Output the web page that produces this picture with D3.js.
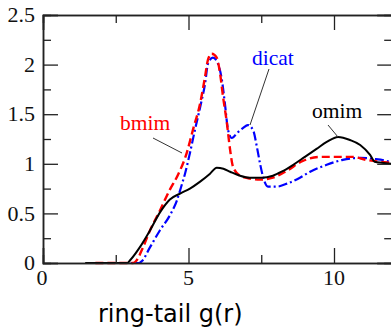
<!DOCTYPE html>
<html><head><meta charset="utf-8">
<script src="https://cdn.jsdelivr.net/npm/d3@7"></script>
<style>body{margin:0;background:#fff;}svg{display:block;}</style>
</head><body>
<script>
// ---- data ----
const rOmim = [1.45, 2.9, 3.0, 3.33, 3.68, 4.02, 4.36, 4.71, 5.05, 5.4, 5.74, 5.97, 6.2, 6.43, 6.77, 7.11, 7.5, 7.9, 8.2, 8.6, 9.0, 9.4, 9.75, 10.14, 10.55, 10.9, 11.24, 11.4, 11.65, 12];
const gOmim = [0, 0, 0.03, 0.16, 0.33, 0.51, 0.64, 0.70, 0.75, 0.82, 0.90, 0.96, 0.95, 0.92, 0.88, 0.86, 0.86, 0.88, 0.92, 0.99, 1.07, 1.15, 1.22, 1.27, 1.24, 1.19, 1.09, 1.02, 1.01, 1.0];
const rBmim = [1.8, 3.1, 3.2, 3.44, 3.68, 4.02, 4.36, 4.64, 4.94, 5.15, 5.4, 5.57, 5.67, 5.8, 5.97, 6.08, 6.19, 6.32, 6.43, 6.53, 6.77, 7.11, 7.46, 7.9, 8.38, 8.93, 9.52, 10.1, 10.65, 11.1, 11.58, 12];
const gBmim = [0, 0, 0.02, 0.16, 0.33, 0.53, 0.74, 0.89, 1.11, 1.34, 1.61, 1.88, 2.05, 2.11, 2.07, 1.92, 1.67, 1.41, 1.14, 0.97, 0.88, 0.85, 0.84, 0.86, 0.93, 1.03, 1.07, 1.07, 1.07, 1.04, 1.02, 1.01];
const rDicat = [2.6, 3.3, 3.4, 3.68, 4.02, 4.36, 4.6, 4.78, 4.88, 5.05, 5.22, 5.4, 5.57, 5.67, 5.84, 6.01, 6.15, 6.25, 6.36, 6.49, 6.67, 6.87, 7.04, 7.22, 7.35, 7.46, 7.56, 7.73, 8.04, 8.38, 8.83, 9.18, 9.75, 10.3, 10.9, 11.34, 11.8, 12];
const gDicat = [0, 0, 0.02, 0.16, 0.33, 0.48, 0.63, 0.80, 0.90, 1.11, 1.34, 1.57, 1.81, 2.01, 2.07, 2.01, 1.84, 1.61, 1.34, 1.26, 1.31, 1.36, 1.39, 1.34, 1.17, 1.0, 0.87, 0.77, 0.77, 0.80, 0.86, 0.92, 0.99, 1.04, 1.06, 1.05, 1.03, 1.01];
const xMajor = [0, 5, 10];
const xMinor = [2.5, 7.5];
const yMajor = [0, 0.5, 1, 1.5, 2, 2.5];
const yMinor = [0.25, 0.75, 1.25, 1.75, 2.25];
const xLabels = ["0", "5", "10"];
const yLabels = ["0", "0.5", "1", "1.5", "2", "2.5"];
const xTitle = "ring-tail g(r)";
const series = [
  {name: "omim", r: rOmim, g: gOmim},
  {name: "bmim", r: rBmim, g: gBmim},
  {name: "dicat", r: rDicat, g: gDicat}
];

// ---- layout ----
const W = 391, H = 330;
const x = d3.scaleLinear().domain([0, 12]).range([43, 392.2]);
const y = d3.scaleLinear().domain([0, 2.5]).range([263, 15]);
const svg = d3.select("body").append("svg").attr("width", W).attr("height", H);

const styles = {
  omim: {stroke: "#000", dash: null, width: 2},
  bmim: {stroke: "#ff0000", dash: "8,4", width: 2.4},
  dicat: {stroke: "#0000ff", dash: "9,3,2,3", width: 2.2}
};

const line = d3.line().x(d => x(d[0])).y(d => y(d[1])).curve(d3.curveMonotoneX);
["dicat", "bmim", "omim"].forEach(n => {
  const s = series.find(q => q.name === n);
  const pts = s.r.map((v, i) => [v, s.g[i]]);
  svg.append("path").attr("d", line(pts)).attr("fill", "none")
    .attr("stroke", styles[n].stroke).attr("stroke-width", styles[n].width)
    .attr("stroke-dasharray", styles[n].dash);
});

// axes with inward ticks
const axCol = "#222";
const fontSerif = "'Liberation Serif', 'Times New Roman', serif";
const gAx = svg.append("g");
function axisDraw(axisGen, tr, vals, size) {
  const g = gAx.append("g").attr("transform", tr).call(axisGen.tickValues(vals).tickSize(size).tickFormat(""));
  g.select(".domain").attr("stroke", axCol).attr("stroke-width", 1.5);
  g.selectAll(".tick line").attr("stroke", axCol).attr("stroke-width", 1.3);
  return g;
}
const yBot = y(0), yTop = y(2.5), xL = x(0), xR = x(12);
axisDraw(d3.axisTop(x), `translate(0,${yBot})`, xMajor, 15);
axisDraw(d3.axisTop(x), `translate(0,${yBot})`, xMinor, 8);
axisDraw(d3.axisBottom(x), `translate(0,${yTop})`, xMajor, 15);
axisDraw(d3.axisBottom(x), `translate(0,${yTop})`, xMinor, 8);
axisDraw(d3.axisRight(y), `translate(${xL},0)`, yMajor, 15);
axisDraw(d3.axisRight(y), `translate(${xL},0)`, yMinor, 8);
axisDraw(d3.axisLeft(y), `translate(${xR},0)`, yMajor, 15);
axisDraw(d3.axisLeft(y), `translate(${xR},0)`, yMinor, 8);

// tick labels
svg.append("g").selectAll("text").data(xMajor).join("text")
  .attr("x", d => x(d) - (d === 0 ? 1 : 0)).attr("y", 285).attr("text-anchor", "middle")
  .attr("font-family", fontSerif).attr("font-size", 22).attr("fill", "#111")
  .text((d, i) => xLabels[i]);
svg.append("g").selectAll("text").data(yMajor).join("text")
  .attr("x", 35).attr("y", d => y(d)).attr("dy", "0.33em").attr("text-anchor", "end")
  .attr("font-family", fontSerif).attr("font-size", 22).attr("fill", "#111")
  .text((d, i) => yLabels[i]);

// x title
svg.append("text").attr("x", 98).attr("y", 322)
  .attr("font-family", "'DejaVu Sans', sans-serif").attr("font-size", 24).attr("fill", "#000")
  .text(xTitle);

// annotations
const ann = [
  {t: "bmim", c: "#ff0000", tx: 120, ty: 130, x1: 153, y1: 138, x2: 182, y2: 153},
  {t: "dicat", c: "#0000ff", tx: 252, ty: 65, x1: 269, y1: 69, x2: 250, y2: 125},
  {t: "omim", c: "#000", tx: 312, ty: 118, x1: 328, y1: 125, x2: 338, y2: 137}
];
ann.forEach(a => {
  svg.append("text").attr("x", a.tx).attr("y", a.ty).attr("font-family", fontSerif)
    .attr("font-size", 21.5).attr("fill", a.c).text(a.t);
  svg.append("line").attr("x1", a.x1).attr("y1", a.y1).attr("x2", a.x2).attr("y2", a.y2)
    .attr("stroke", "#333").attr("stroke-width", 1);
});
</script>
</body></html>
